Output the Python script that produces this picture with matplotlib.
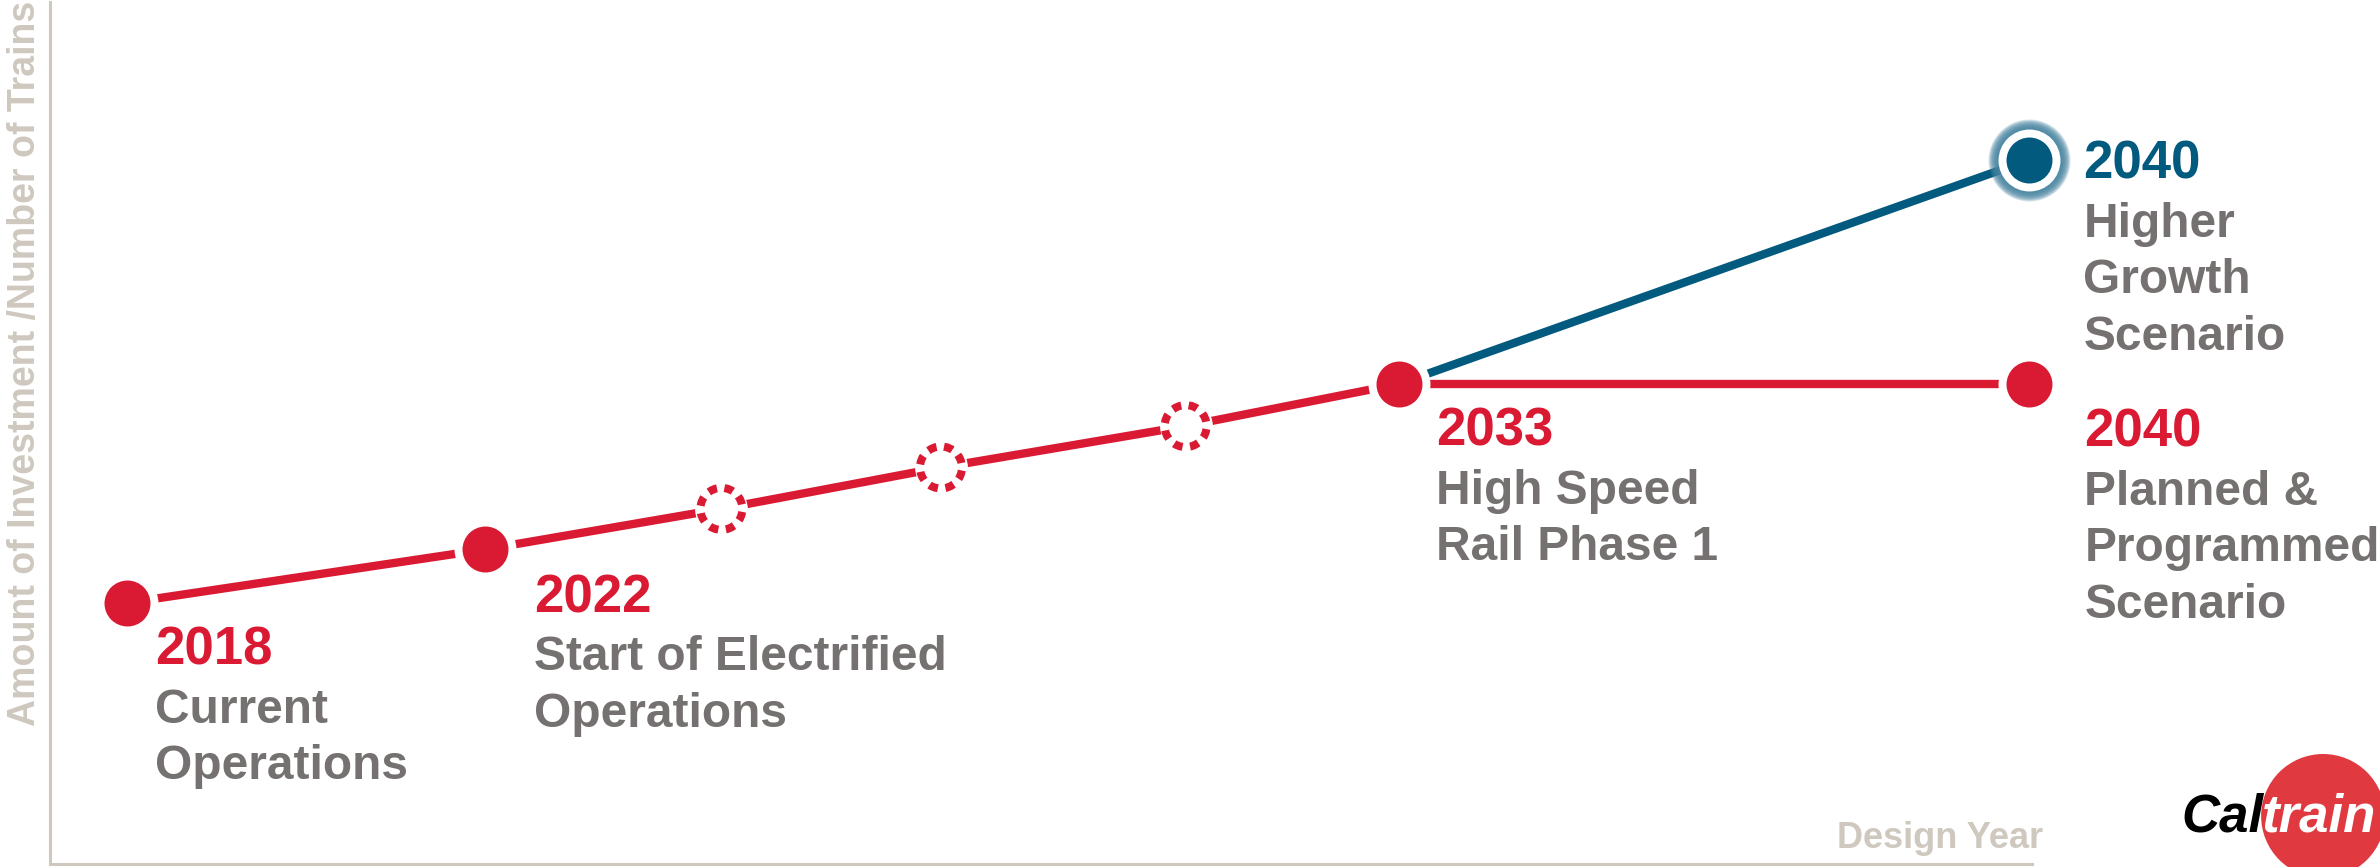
import matplotlib
matplotlib.use("Agg")
import numpy as np
import matplotlib.pyplot as plt
from matplotlib.patches import Circle
from matplotlib.transforms import ScaledTranslation

RED = "#DA1A33"
BLUE = "#025A7E"
GLOW = "#4A86A2"
GRAY = "#767171"
AXIS = "#CFC8BF"
FONT = "Liberation Sans"

# milestone positions along the design-year axis and relative investment level
base_pos = [2018.0, 2022.14, 2024.87, 2027.41, 2030.24, 2032.71]
base_level = [3.03, 3.65, 4.12, 4.60, 5.08, 5.57]
interim = [False, False, True, True, True, False]

planned_pos = [2032.71, 2040.0]
planned_level = [5.57, 5.57]
growth_pos = [2032.71, 2040.0]
growth_level = [5.57, 8.17]

labels = [
    ("2018", ["Current", "Operations"]),
    ("2022", ["Start of Electrified", "Operations"]),
    ("2033", ["High Speed", "Rail Phase 1"]),
    ("2040", ["Planned &", "Programmed", "Scenario"]),
    ("2040", ["Higher", "Growth", "Scenario"]),
]
label_at = [(base_pos[0], base_level[0]), (base_pos[1], base_level[1]),
            (base_pos[5], base_level[5]), (planned_pos[1], planned_level[1]),
            (growth_pos[1], growth_level[1])]
label_color = [RED, RED, RED, RED, BLUE]
# (left offset, year baseline offset) in pixels
label_offset = [(28, 62), (49, 63), (37, 62), (55, 63), (54, 19)]

y_title = "Amount of Investment /Number of Trains"
x_title = "Design Year"

fig = plt.figure(figsize=(23.8, 8.67), dpi=100)
ax = fig.add_axes([50 / 2380, 3 / 867, 1982 / 2380, 862 / 867])
ax.set_xlim(2017.104, 2040.03)
ax.set_ylim(0, 10)
ax.set_xticks([])
ax.set_yticks([])
for side in ["top", "right"]:
    ax.spines[side].set_visible(False)
for side in ["left", "bottom"]:
    ax.spines[side].set_color(AXIS)
    ax.spines[side].set_linewidth(2.2)
ax.patch.set_alpha(0)

LW = 6.0
ax.plot(base_pos, base_level, color=RED, lw=LW, solid_capstyle="butt", zorder=1, clip_on=False)
ax.plot(planned_pos, planned_level, color=RED, lw=LW, solid_capstyle="butt", zorder=1, clip_on=False)
ax.plot(growth_pos, growth_level, color=BLUE, lw=LW, solid_capstyle="butt", zorder=1, clip_on=False)

def dot(x, y, color):
    ax.plot([x], [y], "o", ms=44.6, color="white", mew=0, zorder=3, clip_on=False)
    ax.plot([x], [y], "o", ms=33.1, color=color, mew=0, zorder=4, clip_on=False)

def dashed_ring(x, y):
    ax.plot([x], [y], "o", ms=38, color="white", mew=0, zorder=3, clip_on=False)
    tr = fig.dpi_scale_trans + ScaledTranslation(x, y, ax.transData)
    on, off = 1.125, 0.935
    ring = Circle((0, 0), 0.21, transform=tr, fill=False, edgecolor=RED, lw=5.76,
                  linestyle=(on + off - on / 2, (on, off)), zorder=4, clip_on=False)
    ax.add_artist(ring)

for x, y, dashed in zip(base_pos, base_level, interim):
    if dashed:
        dashed_ring(x, y)
    else:
        dot(x, y, RED)
dot(planned_pos[1], planned_level[1], RED)

# soft halo behind the higher growth end point
gx, gy = growth_pos[1], growth_level[1]
for r in np.linspace(41, 31, 14):
    ax.plot([gx], [gy], "o", ms=2 * r * 0.72, color=GLOW, alpha=0.2, mew=0, zorder=2, clip_on=False)
ax.plot([gx], [gy], "o", ms=44.6, color="white", mew=0, zorder=3, clip_on=False)
ax.plot([gx], [gy], "o", ms=33.1, color=BLUE, mew=0, zorder=4, clip_on=False)

for (year, desc), (x, y), c, (dx, dy) in zip(labels, label_at, label_color, label_offset):
    ax.annotate(year, (x, y), xytext=(dx, -dy), textcoords="offset pixels",
                ha="left", va="baseline", fontsize=38, fontweight="bold",
                color=c, family=FONT, annotation_clip=False)
    for i, line in enumerate(desc):
        ax.annotate(line, (x, y), xytext=(dx, -(dy + 58 + 56.5 * i)), textcoords="offset pixels",
                    ha="left", va="baseline", fontsize=34.5, fontweight="bold",
                    color=GRAY, family=FONT, annotation_clip=False)

fig.text(25 / 2380, 866 / 867, y_title, rotation=90, ha="center", va="top",
         fontsize=27, fontweight="bold", color=AXIS, family=FONT)
fig.text(1837 / 2380, (867 - 848) / 867, x_title, ha="left", va="baseline",
         fontsize=26, fontweight="bold", color=AXIS, family=FONT)

# Caltrain logo, bottom right corner: "Cal" ends where the red disc starts
cal = fig.text(21.81, 0.35, "Cal", transform=fig.dpi_scale_trans, ha="left", va="baseline",
               fontsize=38, fontweight="bold", style="italic", color="black", family=FONT, zorder=5)
renderer = fig.canvas.get_renderer()
cal_right = cal.get_window_extent(renderer).x1 / fig.dpi
fig.add_artist(Circle((cal_right + 0.6, 0.51), 0.62, transform=fig.dpi_scale_trans,
                      facecolor="#E03A40", edgecolor="none", zorder=4))
fig.text(cal_right - 0.01, 0.35, "train", transform=fig.dpi_scale_trans, ha="left", va="baseline",
         fontsize=38, fontweight="bold", style="italic", color="white", family=FONT, zorder=5)

fig.savefig("out.png", dpi=100)
